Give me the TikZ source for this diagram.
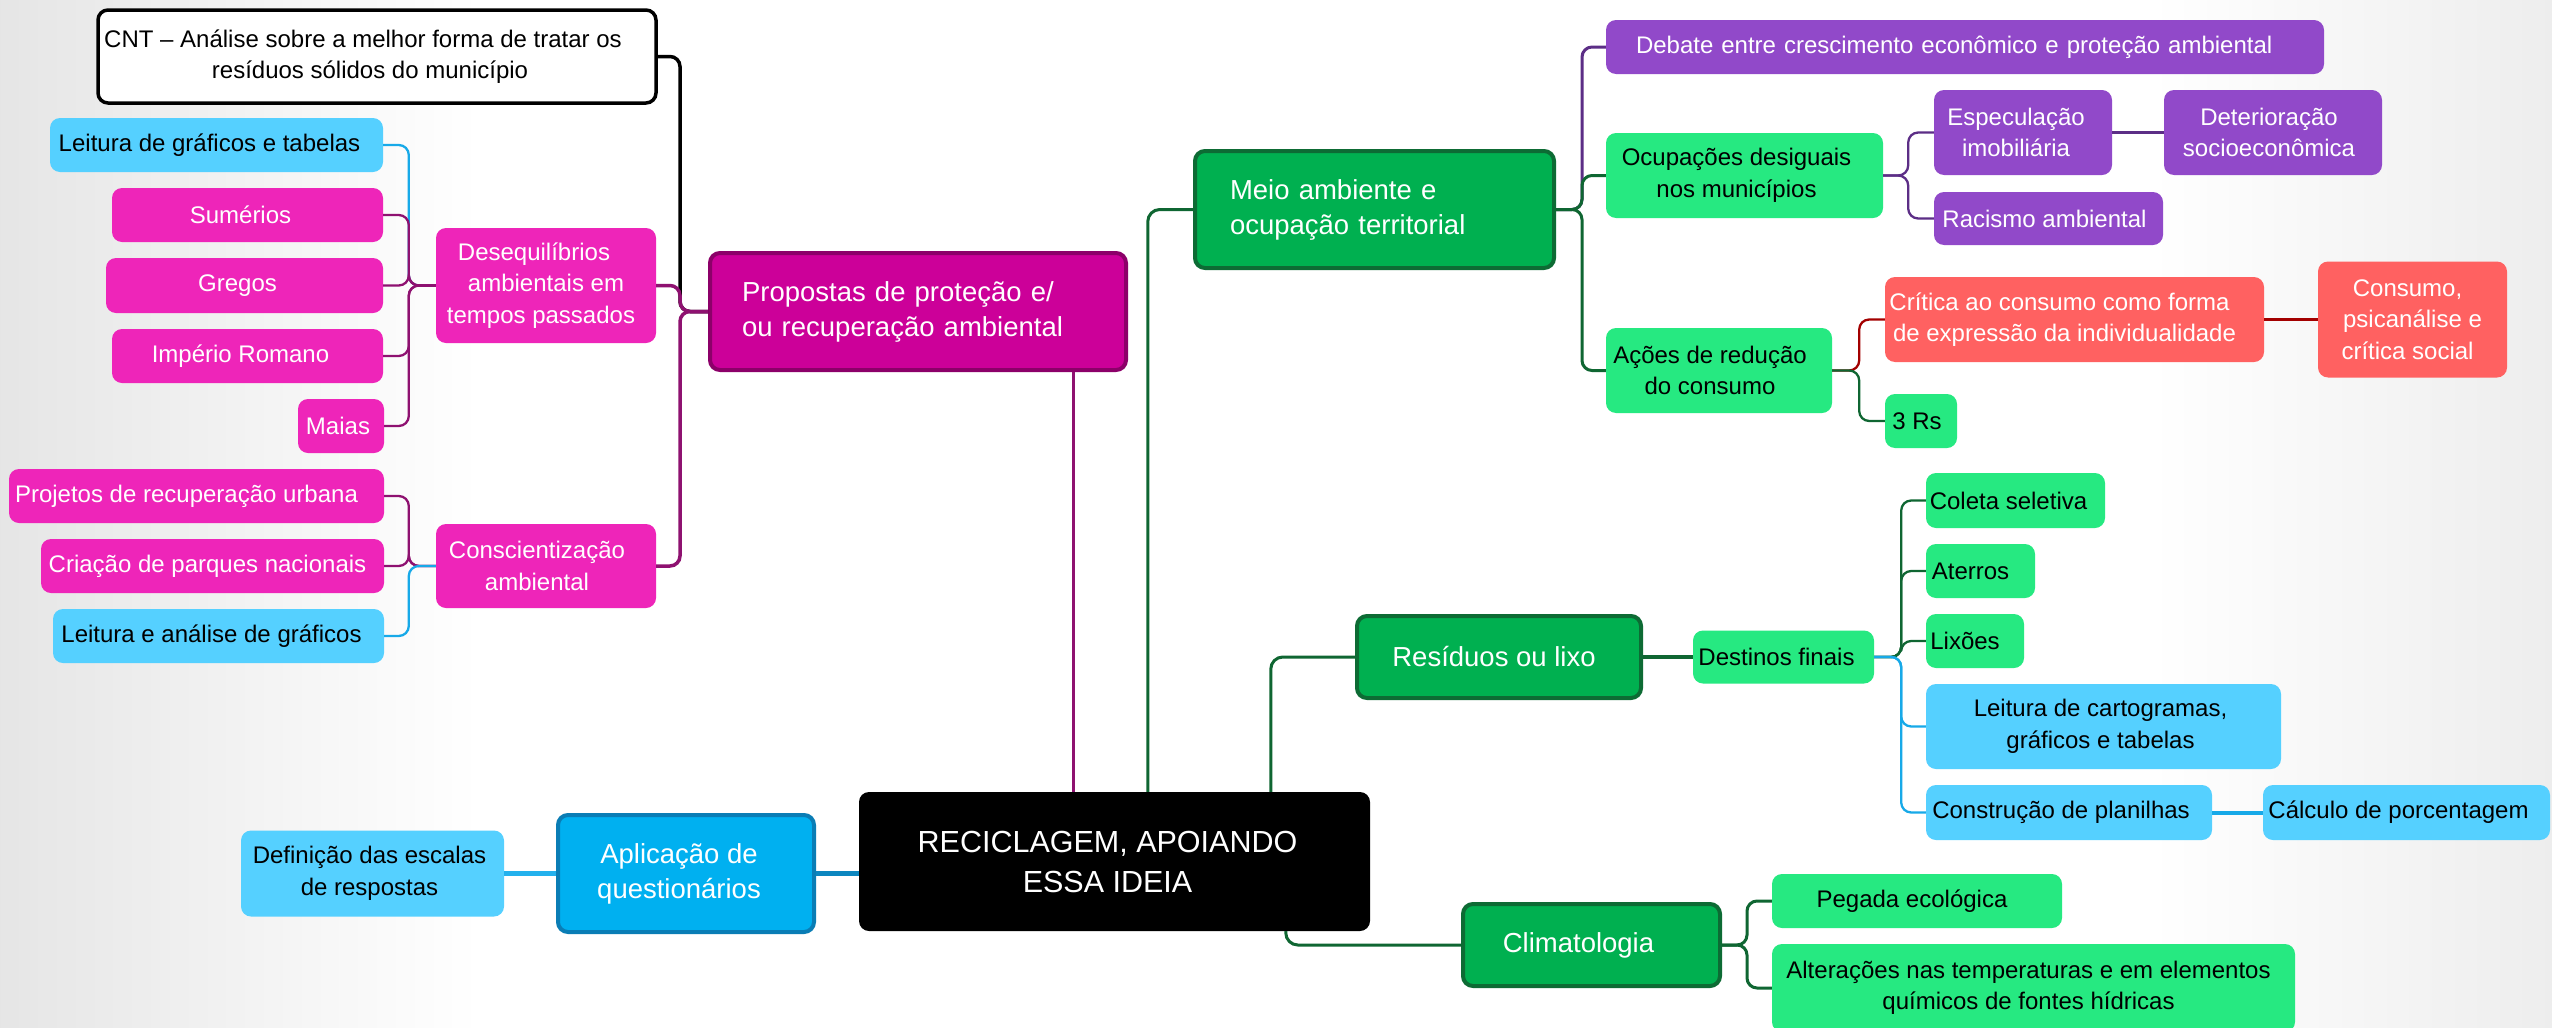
\documentclass[tikz,border=0pt]{standalone}
\usepackage{fontspec}
\setmainfont{Liberation Sans}
\usetikzlibrary{calc}
\definecolor{magL}{HTML}{EE25B9}
\definecolor{magD}{HTML}{CC0099}
\definecolor{magB}{HTML}{8C0069}
\definecolor{purp}{HTML}{9149C9}
\definecolor{gBright}{HTML}{26E981}
\definecolor{gDark}{HTML}{00B050}
\definecolor{gBorder}{HTML}{0D6B34}
\definecolor{lBlue}{HTML}{55D0FF}
\definecolor{mBlue}{HTML}{00B0F0}
\definecolor{mBlueB}{HTML}{0A7DB5}
\definecolor{coral}{HTML}{FF6161}
\definecolor{cGreen}{HTML}{0F6632}
\definecolor{cPurp}{HTML}{5C2E86}
\definecolor{cMag}{HTML}{8E1170}
\definecolor{cBlue}{HTML}{17A9E8}
\definecolor{cRed}{HTML}{A30000}
\newcommand\fsA{\fontsize{24}{31.5}\selectfont}
\newcommand\fsB{\fontsize{27.5}{35}\selectfont}
\newcommand\fsC{\fontsize{30.5}{40}\selectfont}
% trailing pad: shifts a centred line slightly to the left, as in the reference
\newcommand\sh[1][14pt]{\hspace*{#1}}
\tikzset{
  base/.style={rounded corners=10pt, inner sep=0pt, align=center, font=\fsA},
  lblue/.style={base, fill=lBlue, text=black},
  mlight/.style={base, fill=magL, text=white},
  purpbox/.style={base, fill=purp, text=white},
  gbright/.style={base, fill=gBright, text=black},
  coralbox/.style={base, fill=coral, text=white},
  gdark/.style={base, fill=gDark, draw=gBorder, line width=4pt, text=white, font=\fsB},
  mdark/.style={base, fill=magD, draw=magB, line width=4pt, text=white, font=\fsB},
  bluebox/.style={base, fill=mBlue, draw=mBlueB, line width=4pt, text=white, font=\fsB},
  centralbox/.style={base, fill=black, text=white, font=\fsC},
  cntbox/.style={base, fill=white, draw=black, line width=3.5pt, text=black},
  conn/.style={rounded corners=10pt, line width=2.3pt},
  connT/.style={rounded corners=12pt, line width=3pt},
}
\begin{document}
\begin{tikzpicture}[x=1pt, y=-1pt]
\useasboundingbox (0,0) rectangle (2552,1028);
\fill[white] (0,0) rectangle (2552,1028);
\fill[left color=black!10, right color=white] (0,0) rectangle (480,1028);
\fill[left color=white, right color=black!7] (2150,0) rectangle (2552,1028);

% ---------- nodes ----------
\node[centralbox, minimum width=511pt, minimum height=139pt] (central) at (1114.5,861.5) {RECICLAGEM, APOIANDO\sh\\ESSA IDEIA\sh};
\node[bluebox, minimum width=256pt, minimum height=117pt] (aplic) at (686,873.5) {Aplicação de\sh\\questionários\sh};
\node[lblue, minimum width=263pt, minimum height=86pt] (defin) at (372.5,873.5) {Definição das escalas\sh[6pt]\\de respostas\sh[6pt]};

\node[mdark, align=left, text width=352pt, inner xsep=32pt, minimum height=117pt] (prop) at (918,311.5) {Propostas de proteção e/\\ou recuperação ambiental};
\node[cntbox, minimum width=558pt, minimum height=93pt] (cnt) at (377,56.5) {CNT – Análise sobre a melhor forma de tratar os\sh[28pt]\\resíduos sólidos do município\sh};
\node[mlight, minimum width=220pt, minimum height=115pt] (deseq) at (546,285.5) {Desequilíbrios\sh[24pt]\\ambientais em\sh[20pt]\\tempos passados\sh[10pt]};
\node[mlight, minimum width=220pt, minimum height=84pt] (consc) at (546,566) {Conscientização\sh[18pt]\\ambiental\sh[18pt]};
\node[lblue, minimum width=333pt, minimum height=54pt] (leit1) at (216.5,145) {Leitura de gráficos e tabelas\sh};
\node[mlight, minimum width=271pt, minimum height=54pt] (sum) at (247.5,215) {Sumérios\sh};
\node[mlight, minimum width=277pt, minimum height=55pt] (greg) at (244.5,285.5) {Gregos\sh};
\node[mlight, minimum width=271pt, minimum height=54pt] (imp) at (247.5,356) {Império Romano\sh};
\node[mlight, minimum width=86pt, minimum height=54pt] (maias) at (341,426) {Maias\sh[6pt]};
\node[mlight, minimum width=375pt, minimum height=54pt] (proj) at (196.5,496) {Projetos de recuperação urbana\sh[20pt]};
\node[mlight, minimum width=343pt, minimum height=54pt] (criac) at (212.5,566) {Criação de parques nacionais\sh[10pt]};
\node[lblue, minimum width=331pt, minimum height=54pt] (leit2) at (218.5,636) {Leitura e análise de gráficos\sh};

\node[gdark, align=left, text width=289pt, inner xsep=35pt, minimum height=117pt] (meio) at (1374.5,209.5) {Meio ambiente e\\ocupação territorial};
\node[purpbox, align=left, text width=658pt, inner xsep=30pt, minimum height=54pt] (debate) at (1965,47) {Debate entre crescimento econômico e proteção ambiental};
\node[gbright, minimum width=277pt, minimum height=85pt] (ocup) at (1744.5,175.5) {Ocupações desiguais\sh[16pt]\\nos municípios\sh[16pt]};
\node[gbright, minimum width=226pt, minimum height=85pt] (acoes) at (1719,370.5) {Ações de redução\sh[18pt]\\do consumo\sh[18pt]};
\node[purpbox, minimum width=178pt, minimum height=85pt] (espec) at (2023,132.5) {Especulação\sh\\imobiliária\sh};
\node[purpbox, minimum width=218pt, minimum height=85pt] (deter) at (2273,132.5) {Deterioração\sh[8pt]\\socioeconômica\sh[8pt]};
\node[purpbox, minimum width=229pt, minimum height=53pt] (racis) at (2048.5,218.5) {Racismo ambiental\sh[8pt]};
\node[coralbox, minimum width=379pt, minimum height=85pt] (crit) at (2074.5,319.5) {Crítica ao consumo como forma\sh[30pt]\\de expressão da individualidade\sh[20pt]};
\node[coralbox, minimum width=189pt, minimum height=116pt] (consumo) at (2412.5,319.5) {Consumo,\sh[10pt]\\psicanálise e\sh[10pt]\\crítica social\sh[10pt]};
\node[gbright, minimum width=72pt, minimum height=54pt] (tresrs) at (1921,421) {3 Rs\sh[8pt]};

\node[gdark, minimum width=284pt, minimum height=82pt] (res) at (1499,657) {Resíduos ou lixo\sh[10pt]};
\node[gbright, minimum width=181pt, minimum height=53pt] (dest) at (1783.5,657) {Destinos finais\sh};
\node[gbright, minimum width=179pt, minimum height=55pt] (coleta) at (2015.5,500.5) {Coleta seletiva\sh};
\node[gbright, minimum width=109pt, minimum height=54pt] (aterros) at (1980.5,571) {Aterros\sh[20pt]};
\node[gbright, minimum width=98pt, minimum height=54pt] (lixoes) at (1975,641) {Lixões\sh[20pt]};
\node[lblue, minimum width=355pt, minimum height=85pt] (leit3) at (2103.5,726.5) {Leitura de cartogramas,\sh[6pt]\\gráficos e tabelas\sh[6pt]};
\node[lblue, minimum width=286pt, minimum height=55pt] (constr) at (2069,812.5) {Construção de planilhas\sh[16pt]};
\node[lblue, minimum width=287pt, minimum height=55pt] (calc) at (2406.5,812.5) {Cálculo de porcentagem\sh[16pt]};

\node[gdark, minimum width=257pt, minimum height=82pt] (clima) at (1591.5,945) {Climatologia\sh[26pt]};
\node[gbright, minimum width=290pt, minimum height=54pt] (pegada) at (1917,901) {Pegada ecológica\sh[10pt]};
\node[gbright, minimum width=523pt, minimum height=88pt] (alter) at (2033.5,988) {Alterações nas temperaturas e em elementos\sh[10pt]\\químicos de fontes hídricas\sh[10pt]};

% ---------- connectors ----------
% central
\draw[connT, cMag] ([xshift=215pt]central.north west) -- ([xshift=215pt]central.north west |- prop.south);
\draw[connT, cGreen] ([xshift=289pt]central.north west) |- (meio.west);
\draw[connT, cGreen] ([xshift=412pt]central.north west) |- (res.west);
\draw[connT, cGreen] ([xshift=427pt]central.south west) |- (clima.west);
\draw[connT, line width=5pt, mBlueB!80!cBlue] (aplic.east) -- (aplic.east -| central.west);
\draw[connT, line width=5pt, cBlue!80!lBlue] (defin.east) -- (aplic.west);

% propostas
\draw[conn, line width=3.5pt, black] (prop.west) -- ++(-28,0) |- (cnt.east);
\draw[conn, line width=3.5pt, cMag] (prop.west) -- ++(-28,0) |- (deseq.east);
\draw[conn, line width=3.5pt, cMag] (prop.west) -- ++(-28,0) |- (consc.east);

% desequilibrios
\draw[conn, cBlue] (deseq.west) -- ++(-27,0) |- (leit1.east);
\draw[conn, cMag] (deseq.west) -- ++(-27,0) |- (sum.east);
\draw[conn, cMag] (deseq.west) -- ++(-27,0) |- (greg.east);
\draw[conn, cMag] (deseq.west) -- ++(-27,0) |- (imp.east);
\draw[conn, cMag] (deseq.west) -- ++(-27,0) |- (maias.east);

% conscientizacao
\draw[conn, cMag] (consc.west) -- ++(-27,0) |- (proj.east);
\draw[conn, cMag] (consc.west) -- ++(-27,0) |- (criac.east);
\draw[conn, cBlue] (consc.west) -- ++(-27,0) |- (leit2.east);

% meio ambiente
\draw[conn, line width=3pt, cPurp] (meio.east) -- ++(26,0) |- (debate.west);
\draw[conn, line width=3pt, cGreen] (meio.east) -- ++(26,0) |- (acoes.west);
\draw[conn, line width=3pt, cGreen] (meio.east) -- ++(26,0) |- (ocup.west);

% ocupacoes
\draw[conn, cPurp] (ocup.east) -- ++(25,0) |- (espec.west);
\draw[conn, cPurp] (ocup.east) -- ++(25,0) |- (racis.west);
\draw[conn, line width=3pt, cPurp] (espec.east) -- (deter.west);

% acoes
\draw[conn, cRed] (acoes.east) -- ++(27,0) |- (crit.west);
\draw[conn, cGreen] (acoes.east) -- ++(27,0) |- (tresrs.west);
\draw[conn, line width=3pt, cRed] (crit.east) -- (consumo.west);

% residuos
\draw[connT, line width=4.5pt, cGreen] (res.east) -- (dest.west);
\draw[conn, cGreen] (dest.east) -- ++(27,0) |- (coleta.west);
\draw[conn, cGreen] (dest.east) -- ++(27,0) |- (aterros.west);
\draw[conn, cGreen] (dest.east) -- ++(27,0) |- (lixoes.west);
\draw[conn, cBlue] (dest.east) -- ++(27,0) |- (constr.west);
\draw[conn, cBlue] (dest.east) -- ++(27,0) |- (leit3.west);
\draw[conn, line width=4pt, cBlue] (constr.east) -- (calc.west);

% climatologia
\draw[conn, line width=3pt, cGreen] (clima.east) -- ++(25,0) |- (pegada.west);
\draw[conn, line width=3pt, cGreen] (clima.east) -- ++(25,0) |- (alter.west);
\end{tikzpicture}
\end{document}
